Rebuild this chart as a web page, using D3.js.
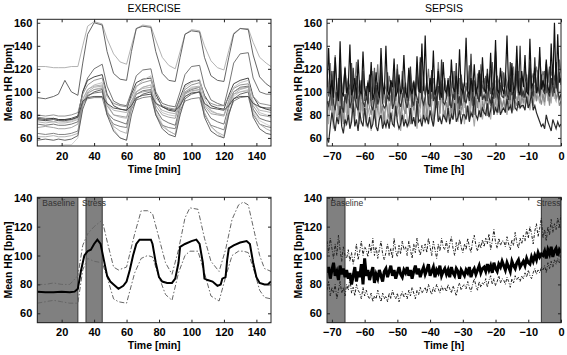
<!DOCTYPE html>
<html>
<head>
<meta charset="utf-8">
<script src="https://cdn.jsdelivr.net/npm/d3@7"></script>
<style>
  body { margin: 0; background: #fff; }
  text { font-family: "Liberation Sans", Arial, sans-serif; }
  .tick text { font-size: 11px; font-weight: bold; fill: #000; }
  .axis-label { font-size: 10.5px; font-weight: bold; }
  .title { font-size: 10.5px; }
  .phase { font-size: 8.5px; fill: #333; }
</style>
</head>
<body>
<svg id="chart"></svg>
<script>
// ---------- data ----------
// exercise: sample times [min]
const exTime = [5,10,15,18,22,26,30,33,36,40,45,48,52,56,60,63,66,70,75,78,82,86,90,93,96,100,105,108,112,116,120,123,126,130,135,138,142,146,149];

// individual subjects (mean HR, bpm)
const exA = [122,122,121,121,121,122,122,140,157,161,159,146,133,126,124,140,155,158,157,145,130,123,120,135,150,154,153,140,127,121,119,136,151,155,155,143,130,125,122];
const exB = [95,94,96,98,110,100,97,125,150,160,158,135,116,111,110,135,155,157,156,135,116,110,109,130,150,153,152,130,114,110,109,130,150,155,154,132,113,107,104];
const exC = [78,77,77,76,76,76,78,100,112,120,124,105,92,89,88,100,114,119,120,100,90,88,87,100,115,122,123,105,93,90,88,105,125,133,134,112,100,98,98];
const exD = [77,76,77,76,76,77,79,100,110,113,115,98,88,85,84,98,108,111,112,98,87,84,83,95,106,109,110,97,88,86,85,97,107,110,112,96,87,85,84];
const exE = [80,79,80,79,79,80,82,98,106,110,112,96,90,88,87,95,105,108,110,95,88,86,85,93,102,106,108,95,90,88,88,95,103,106,107,96,90,89,88];
const exF = [75,75,74,75,74,75,77,92,102,106,108,90,80,78,77,90,104,110,114,92,82,80,79,92,104,108,111,94,84,81,80,93,104,108,110,92,82,80,79];
const exG = [53,53,53,53,54,54,60,88,98,102,104,85,68,60,58,85,100,104,106,85,72,66,63,80,96,100,102,82,70,64,60,80,96,100,102,84,75,72,70];
const exH = [72,71,72,71,71,72,74,90,97,99,100,82,76,74,72,88,98,101,102,85,76,73,71,88,99,102,104,86,77,74,72,88,100,104,105,85,77,75,74];
const exI = [69,70,69,68,68,69,72,90,99,102,103,88,80,79,78,92,98,100,101,88,80,78,77,90,98,101,102,88,81,80,79,92,100,103,104,88,80,79,78];
const exJ = [64,63,64,63,63,64,66,90,94,95,95,80,72,70,69,85,93,95,96,80,71,69,68,84,92,94,95,80,71,69,67,82,92,95,96,80,72,70,69];
const exK = [61,61,62,61,61,62,64,88,100,104,105,82,70,66,64,88,100,104,106,82,70,66,63,86,100,104,105,82,70,65,62,86,98,102,104,82,72,68,66];
const exL = [58,59,58,59,58,59,62,85,96,100,102,80,66,60,58,80,94,98,100,80,68,63,61,80,94,98,100,78,66,62,60,80,94,98,100,78,68,64,63];
const exM = [74,73,74,73,73,74,76,94,102,105,106,90,84,83,82,92,100,103,104,90,84,82,81,90,100,103,104,90,83,81,80,90,98,100,101,90,84,83,82];
const exN = [76,75,76,75,75,76,78,92,95,96,96,90,86,85,84,88,95,97,98,90,87,85,84,88,96,99,100,90,86,85,84,88,94,96,96,90,87,86,86];
const exSubjects = [exA, exB, exC, exD, exE, exF, exG, exH, exI, exJ, exK, exL, exM, exN];
const exGrays = ['#aaa', '#555', '#666', '#333', '#888', '#bbb', '#ccc', '#666', '#999', '#777', '#aaa', '#555', '#aaa', '#444'];

// exercise group: mean and band
const exMeanTime = [5,10,15,20,25,28,30,32,34,36,38,40,42,44,46,48,50,52,55,58,60,62,64,66,68,72,75,76,78,80,82,85,88,90,92,93,96,100,103,105,107,108,110,113,116,118,119,121,122,123,126,130,134,136,138,140,142,145,147,149];
const exMean = [75,74.5,74.5,75,74.5,75,77,90,100,103,104,108,111,108,97,86,82,80,77,79,82,90,100,108,111,111,111,108,95,85,82,81,81,84,95,106,108,110,111,108,95,84,83,82,79,80,84,85,97,105,107,109,110,108,95,85,81,80,80,82];
const exBandTime = [5,10,15,20,25,30,33,36,40,45,48,52,55,60,65,69,73,76,80,84,88,92,96,99,104,108,112,117,121,125,129,132,135,139,142,145,149];
const exUpper = [80,80,81,80,80,86,107,115,120,124.5,110,92,90,92,115,131,131,129,112,95,87,104,126,133,132,112,96,89,104,125,135,137,135,115,100,91,89];
const exLower = [67,68,69,68,67,67,90,98,96,95,85,70,68,67,88,98,100,99,85,73,69,88,100,103,103,88,72,68.5,85,100,103,103,102,88,76,71,70];
const exBaseline = [5, 30];
const exStress = [35, 45];

// sepsis: sampled every 0.5 h from -71.5 h to 0 h
const sepStart = -71.5, sepStep = 0.5;
const sep1 = [104,138,98,110,95,130,102,92,144,100,96,121, 99,105,141,97,103,112,94,128,101,98,135,104, 96,108,100,126,93,99,117,102,95,138,106,98, 140,101,97,110,104,129,96,100,115,98,103,132, 100,95,121,102,98,109,97,131,103,99,142,101, 149,104,98,112,100,136,97,103,118,101,95,126, 102,99,110,96,128,104,100,114,98,137,103,99, 106,147,101,97,112,100,124,98,104,119,96,130, 103,99,116,101,134,98,105,145,102,99,121,104, 98,110,149,103,100,125,99,106,140,101,97,118, 104,132,100,98,146,103,108,121,99,105,139,102, 110,101,128,104,99,142,106,160,103,150,108,112];
const sep2 = [92,88,96,118,90,84,100,94,126,88,82,98, 90,104,86,92,121,95,88,84,99,110,91,87, 96,90,115,88,84,93,106,89,95,124,90,86, 88,97,92,110,85,90,99,120,92,87,94,104, 91,86,96,122,93,88,101,95,90,130,94,89, 95,108,90,87,119,92,96,89,105,93,128,91, 89,95,112,91,86,98,93,125,90,96,88,107, 94,90,99,92,133,95,89,104,97,91,116,93, 97,92,120,95,90,101,94,135,98,92,106,96, 95,112,98,93,126,97,100,94,118,99,140,96, 100,95,108,98,121,102,96,130,99,104,97,115, 102,98,124,100,96,112,104,99,126,101,94,98];
const sep3 = [110,96,105,88,118,100,92,112,98,85,106,120, 94,108,102,125,90,99,114,87,103,96,118,92, 105,89,112,100,95,121,86,108,99,115,93,102, 88,117,97,106,92,110,101,124,90,98,111,95, 103,92,119,99,87,108,96,113,100,126,94,105, 97,110,89,104,116,95,102,90,120,99,107,93, 112,98,106,88,101,118,94,109,97,85,115,100, 91,105,99,123,96,88,110,102,94,117,99,106, 100,114,92,107,98,126,103,95,111,90,108,101, 117,96,104,110,93,121,99,106,128,97,112,103, 95,108,115,100,124,98,106,113,101,119,96,110, 104,118,99,110,122,105,96,114,108,100,117,106];
const sep4 = [78,92,84,100,74,88,96,80,106,86,72,94, 90,76,102,85,93,79,98,88,75,104,83,91, 70,95,86,80,99,77,90,84,108,81,88,73, 92,84,76,97,88,102,79,86,93,74,99,85, 81,96,88,72,94,84,101,78,90,87,105,80, 95,79,89,100,83,76,97,86,92,81,110,88, 76,91,84,98,79,93,87,102,80,95,84,89, 99,82,88,76,104,90,80,95,86,101,78,92, 86,97,79,93,88,106,84,91,99,82,95,87, 93,85,102,89,96,81,108,92,88,100,86,97, 90,104,94,86,110,95,88,101,92,107,96,89, 98,91,106,100,88,112,96,104,94,99,88,92];
const sep5 = [88,72,95,80,68,90,76,84,100,74,86,70, 82,94,68,78,88,74,99,80,72,91,77,85, 73,86,79,66,92,81,70,88,76,96,72,83, 68,80,90,74,84,70,95,78,86,66,82,75, 90,77,70,85,73,92,80,68,88,79,74,94, 76,86,72,98,80,70,84,91,75,82,100,78, 84,73,92,79,88,76,82,95,74,86,80,90, 72,88,80,75,94,82,70,86,92,78,84,76, 88,79,96,84,76,90,83,98,80,87,92,82, 94,86,80,92,88,102,84,90,96,86,104,90, 86,95,90,100,84,93,88,106,92,97,90,102, 95,88,104,92,98,90,108,96,92,100,94,98];
const sep6 = [60,56,70,82,74,66,78,72,88,70,64,76, 72,80,68,74,90,70,76,66,82,74,70,86, 74,70,78,68,72,84,70,66,76,80,68,74, 70,76,68,82,72,70,88,74,68,72,80,70, 76,70,74,86,72,78,70,92,74,76,70,80, 74,78,72,84,76,70,82,96,74,78,72,80, 78,74,86,72,80,76,90,74,78,84,72,80, 80,76,88,74,82,78,96,80,76,84,78,86, 82,80,90,78,84,96,80,86,82,92,80,84, 86,82,94,84,88,82,100,86,84,92,86,88, 88,84,96,86,90,100,84,88,82,78,74,70, 72,68,80,74,70,66,76,72,68,74,70,72];
const sep7 = [118,100,125,96,110,132,104,92,115,108,98,122, 104,112,95,120,100,108,126,98,110,94,116,102, 96,110,104,92,118,100,106,124,98,112,90,108, 102,94,114,106,98,120,92,110,104,96,118,100, 108,98,92,116,104,110,96,122,100,106,94,112, 98,106,120,100,94,112,104,98,126,102,108,96, 110,100,96,114,106,92,118,104,100,112,96,108, 94,108,102,118,98,110,104,96,116,100,124,106, 112,98,106,100,120,104,110,96,114,108,100,118, 104,116,108,98,112,106,122,102,110,118,104,114, 108,120,112,104,126,110,116,108,122,114,130,110, 118,112,126,108,120,114,124,110,118,106,128,116];
const sep8 = [96,84,104,90,80,100,88,94,110,86,92,82, 100,88,94,80,106,92,86,98,84,102,90,96, 84,98,90,104,86,94,80,100,92,88,106,90, 94,82,100,88,96,84,108,90,86,98,82,104, 88,100,92,84,98,90,104,86,96,82,100,92, 96,86,94,106,88,100,84,92,110,88,96,84, 92,104,86,96,90,82,100,94,88,106,92,98, 86,96,100,88,94,108,90,84,98,92,102,88, 100,90,96,104,88,98,92,110,94,86,100,96, 94,102,90,98,106,92,100,96,112,98,90,104, 98,92,104,100,96,108,94,102,98,110,100,96, 102,96,110,98,104,100,106,94,100,108,98,102];
const sepPatients = [sep5, sep8, sep4, sep7, sep3, sep2, sep6, sep1];
const sepGrays = ['#aaa', '#bbb', '#888', '#777', '#555', '#333', '#2a2a2a', '#111'];

// sepsis group: mean and band
const sepMean = [88,92,84,90,95,86,89,83,93,87,91,85, 90,84,88,80,86,92,82,89,85,94,80,98, 86,90,83,88,92,81,87,84,90,86,82,89, 91,85,89,93,86,90,84,88,92,87,85,90, 88,92,86,90,84,89,93,87,91,85,89,92, 87,90,94,86,89,92,85,90,88,93,86,89, 91,87,90,85,92,88,86,91,89,84,90,88, 86,90,88,92,85,89,91,87,90,93,88,91, 92,89,94,90,93,88,95,91,89,94,92,96, 93,90,95,92,89,96,93,91,95,97,92,94, 96,93,98,95,94,99,96,100,97,102,99,101, 100,103,98,104,101,106,99,103,105,100,104,102];
const sepUpper = [110,102,112,105,98,108,100,114,104,96,106,100, 98,104,96,102,94,100,108,97,103,110,100,106, 104,99,108,102,112,100,106,98,104,110,101,97, 102,108,100,105,98,112,103,99,107,101,110,104, 106,100,110,104,98,108,102,112,105,100,107,103, 108,102,112,106,100,110,104,98,108,103,112,106, 104,110,102,108,113,105,100,109,104,111,106,102, 108,104,112,106,102,110,114,107,103,109,105,111, 106,112,108,115,104,110,118,109,105,112,107,110, 110,106,113,108,104,111,107,116,109,105,112,108, 114,110,118,112,120,115,108,117,122,113,119,126, 112,118,110,120,114,125,116,122,118,126,120,128];
const sepLower = [76,82,72,78,74,80,70,76,82,74,78,72, 80,76,84,74,78,72,80,76,74,70,78,72, 76,72,70,74,68,72,70,76,72,68,74,70, 72,68,74,70,76,72,70,74,68,72,75,71, 74,70,76,72,78,74,70,76,73,78,74,76, 78,74,80,76,73,78,75,80,77,74,79,76, 78,75,80,77,74,79,76,72,78,81,76,79, 80,77,82,78,75,80,84,79,76,82,78,81, 80,84,78,83,86,80,84,79,82,86,81,84, 83,80,85,82,78,84,81,86,83,85,82,86, 84,88,85,90,86,84,88,91,87,90,88,92, 90,93,88,95,91,96,92,97,94,98,95,100];
const sepBaseline = [-72, -66];
const sepStress = [-6, 0];

// axis ticks
const exXTicks = [20, 40, 60, 80, 100, 120, 140];
const sepXTicks = [-70, -60, -50, -40, -30, -20, -10, 0];
const topYTicks = [60, 80, 100, 120, 140, 160];
const bottomYTicks = [60, 80, 100, 120, 140];

// ---------- layout ----------
const svg = d3.select('#chart').attr('width', 567).attr('height', 355);
let clipCount = 0;

function makePanel(box, xDomain, yDomain) {
    const x = d3.scaleLinear().domain(xDomain).range([box.left, box.right]);
    const y = d3.scaleLinear().domain(yDomain).range([box.bottom, box.top]);
    const id = 'clip' + (clipCount++);
    svg.append('clipPath').attr('id', id).append('rect')
        .attr('x', box.left).attr('y', box.top)
        .attr('width', box.right - box.left).attr('height', box.bottom - box.top);
    const plot = svg.append('g').attr('clip-path', `url(#${id})`);
    return {x, y, box, plot};
}

function drawAxes(p, xTicks, yTicks, xLabel, title) {
    const b = p.box;
    const t = 3;
    svg.append('g').attr('transform', `translate(0,${b.bottom})`)
        .call(d3.axisBottom(p.x).tickValues(xTicks).tickSizeInner(-t).tickSizeOuter(0).tickPadding(6));
    svg.append('g').attr('transform', `translate(0,${b.top})`)
        .call(d3.axisTop(p.x).tickValues(xTicks).tickSizeInner(-t).tickSizeOuter(0).tickFormat(''));
    svg.append('g').attr('transform', `translate(${b.left},0)`)
        .call(d3.axisLeft(p.y).tickValues(yTicks).tickSizeInner(-t).tickSizeOuter(0).tickPadding(5));
    svg.append('g').attr('transform', `translate(${b.right},0)`)
        .call(d3.axisRight(p.y).tickValues(yTicks).tickSizeInner(-t).tickSizeOuter(0).tickFormat(''));
    svg.selectAll('.domain').remove();
    svg.selectAll('.tick line').attr('stroke', '#222');

    svg.append('rect')
        .attr('x', b.left).attr('y', b.top)
        .attr('width', b.right - b.left).attr('height', b.bottom - b.top)
        .attr('fill', 'none').attr('stroke', '#222').attr('stroke-width', 1);

    const cx = (b.left + b.right) / 2;
    svg.append('text').attr('class', 'axis-label')
        .attr('x', cx).attr('y', b.bottom + 26.5)
        .attr('text-anchor', 'middle').text(xLabel);
    svg.append('text').attr('class', 'axis-label')
        .attr('transform', `translate(${b.left - 25.5},${(b.top + b.bottom) / 2}) rotate(-90)`)
        .attr('text-anchor', 'middle').text('Mean HR [bpm]');
    if (title) {
        svg.append('text').attr('class', 'title')
            .attr('x', cx).attr('y', 11.5)
            .attr('text-anchor', 'middle').text(title);
    }
}

function shade(p, range) {
    p.plot.append('rect')
        .attr('x', p.x(range[0])).attr('y', p.box.top)
        .attr('width', p.x(range[1]) - p.x(range[0]))
        .attr('height', p.box.bottom - p.box.top)
        .attr('fill', '#808080').attr('stroke', '#333').attr('stroke-width', 1);
}

function line(p, xs, ys) {
    return d3.line().x((d, i) => p.x(xs[i])).y(d => p.y(d))(ys);
}

const sepTime = i => sepStart + i * sepStep;

// ---------- top left: exercise subjects ----------
const tl = makePanel({left: 37.3, right: 271, top: 19.3, bottom: 146}, [5, 149], [53, 163]);
exSubjects.forEach((s, k) => {
    tl.plot.append('path')
        .attr('d', line(tl, exTime, s))
        .attr('fill', 'none').attr('stroke', exGrays[k]).attr('stroke-width', 0.9);
});
drawAxes(tl, exXTicks, topYTicks, 'Time [min]', 'EXERCISE');

// ---------- top right: sepsis patients ----------
const tr = makePanel({left: 327, right: 561, top: 19.3, bottom: 146}, [-71.5, 0], [53, 163]);
sepPatients.forEach((s, k) => {
    tr.plot.append('path')
        .attr('d', d3.line().x((d, i) => tr.x(sepTime(i))).y(d => tr.y(d))(s))
        .attr('fill', 'none').attr('stroke', sepGrays[k]).attr('stroke-width', 1.2);
});
drawAxes(tr, sepXTicks, topYTicks, 'Time [h]', 'SEPSIS');

// ---------- bottom left: exercise mean ----------
const bl = makePanel({left: 37.3, right: 271, top: 197.3, bottom: 322.7}, [5, 149], [53.5, 140.3]);
shade(bl, exBaseline);
shade(bl, exStress);
[exUpper, exLower].forEach(s => {
    bl.plot.append('path')
        .attr('d', line(bl, exBandTime, s))
        .attr('fill', 'none').attr('stroke', '#666').attr('stroke-width', 1)
        .attr('stroke-dasharray', '5,2,1.5,2');
});
bl.plot.append('path')
    .attr('d', line(bl, exMeanTime, exMean))
    .attr('fill', 'none').attr('stroke', '#000').attr('stroke-width', 2);
bl.plot.append('text').attr('class', 'phase')
    .attr('x', bl.x(exBaseline[0]) + 5).attr('y', bl.box.top + 9).text('Baseline');
bl.plot.append('text').attr('class', 'phase')
    .attr('x', bl.x(exStress[0]) - 4).attr('y', bl.box.top + 9).text('Stress');
drawAxes(bl, exXTicks, bottomYTicks, 'Time [min]');

// ---------- bottom right: sepsis mean ----------
const br = makePanel({left: 327, right: 561, top: 197.3, bottom: 322.7}, [-71.5, 0], [53.5, 140.3]);
shade(br, sepBaseline);
shade(br, sepStress);
[sepUpper, sepLower].forEach(s => {
    br.plot.append('path')
        .attr('d', d3.line().x((d, i) => br.x(sepTime(i))).y(d => br.y(d))(s))
        .attr('fill', 'none').attr('stroke', '#222').attr('stroke-width', 1)
        .attr('stroke-dasharray', '3,1.5,1,1.5');
});
br.plot.append('path')
    .attr('d', d3.line().x((d, i) => br.x(sepTime(i))).y(d => br.y(d))(sepMean))
    .attr('fill', 'none').attr('stroke', '#000').attr('stroke-width', 3);
br.plot.append('text').attr('class', 'phase')
    .attr('x', br.box.left + 3.5).attr('y', br.box.top + 9).text('Baseline');
br.plot.append('text').attr('class', 'phase')
    .attr('x', br.box.right - 0.5).attr('y', br.box.top + 9)
    .attr('text-anchor', 'end').text('Stress');
drawAxes(br, sepXTicks, bottomYTicks, 'Time [h]');
</script>
</body>
</html>
